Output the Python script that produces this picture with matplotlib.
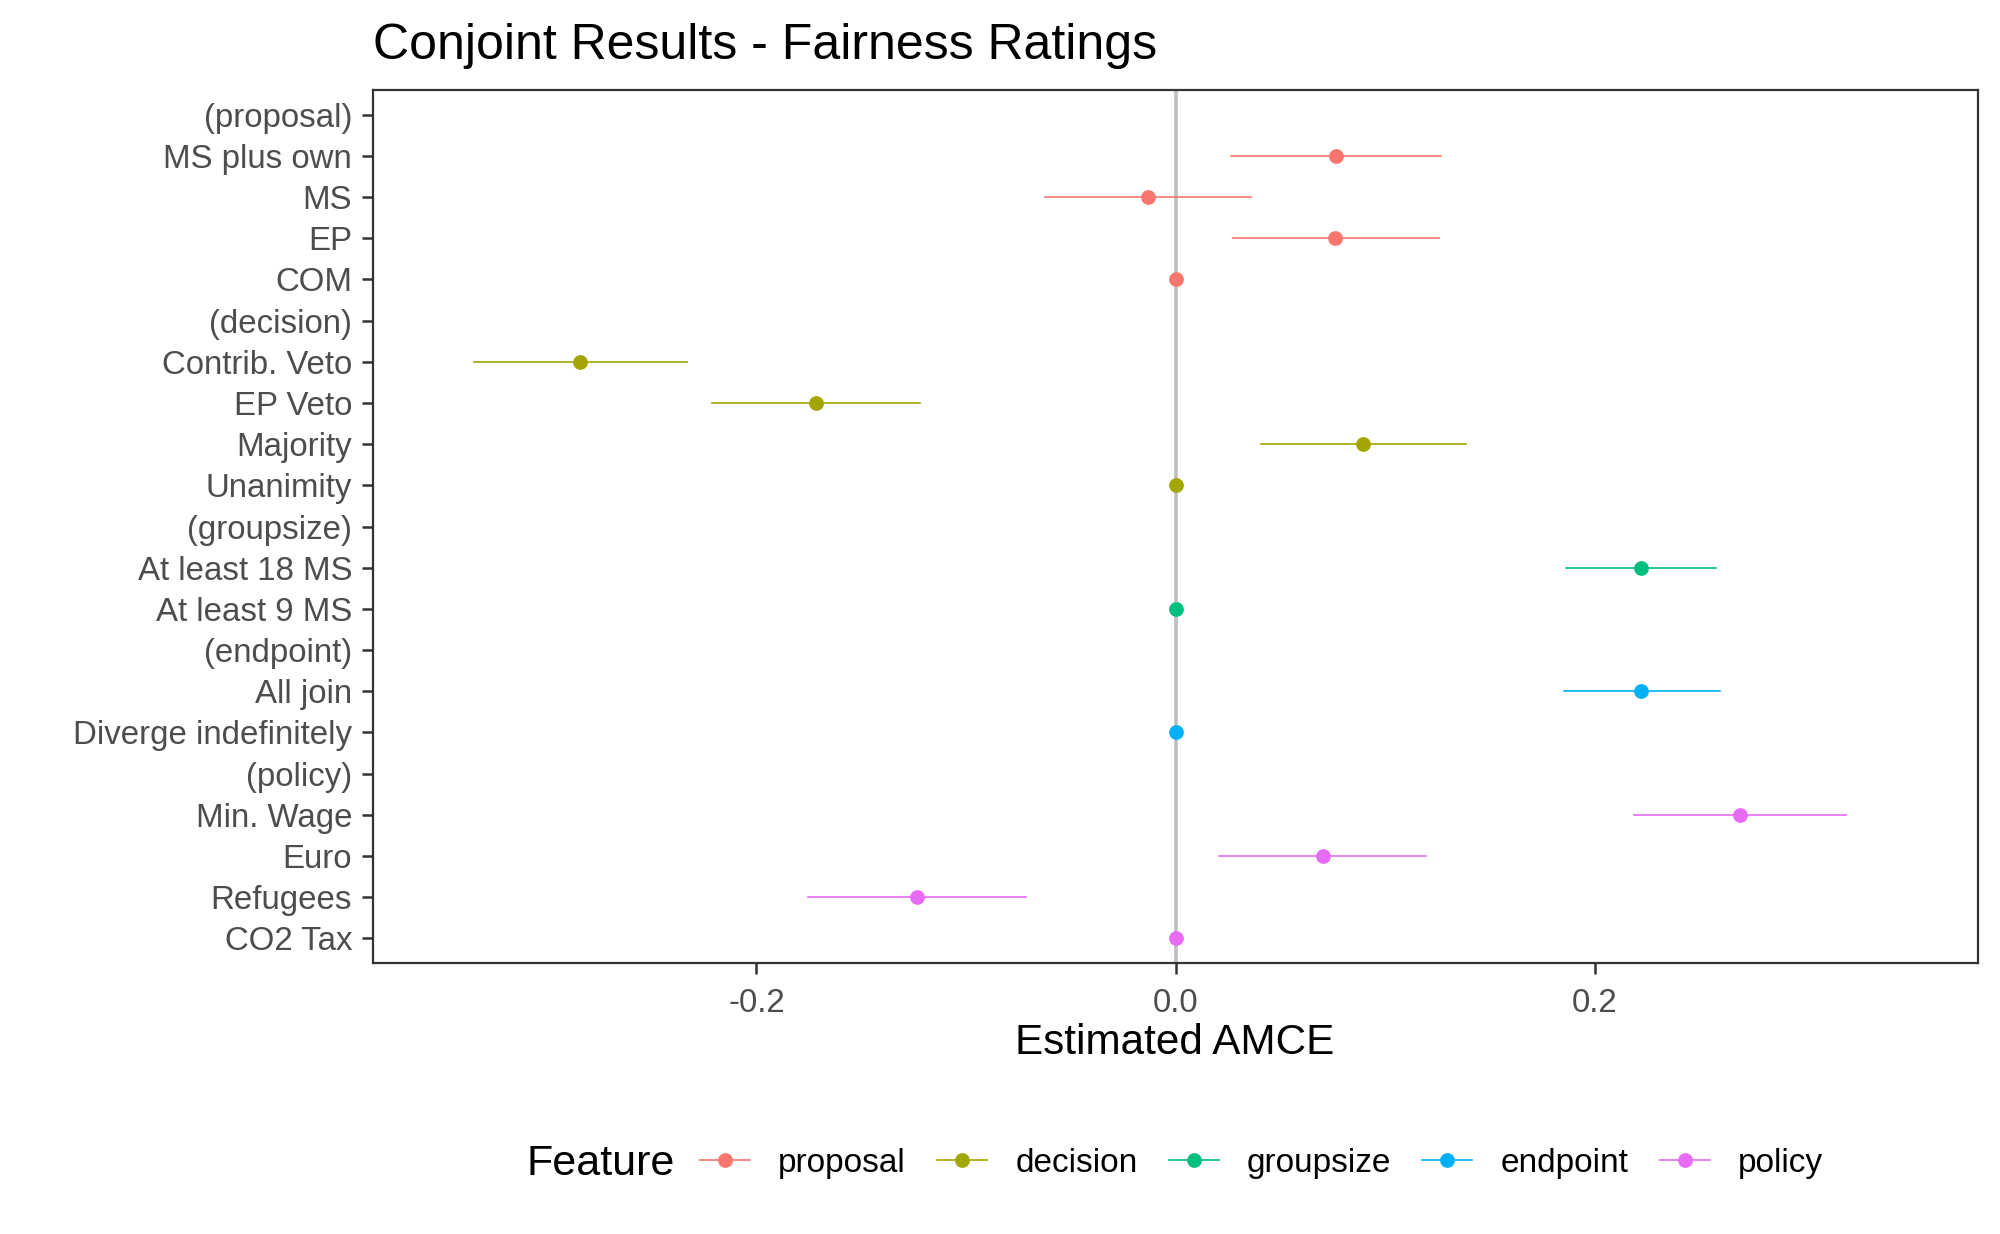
import matplotlib.pyplot as plt
from matplotlib.lines import Line2D

plt.rcParams['font.family'] = ['Liberation Sans', 'DejaVu Sans']

# row labels, top to bottom
labels = ["(proposal)", "MS plus own", "MS", "EP", "COM",
          "(decision)", "Contrib. Veto", "EP Veto", "Majority", "Unanimity",
          "(groupsize)", "At least 18 MS", "At least 9 MS",
          "(endpoint)", "All join", "Diverge indefinitely",
          "(policy)", "Min. Wage", "Euro", "Refugees", "CO2 Tax"]
# feature of each row (None for header rows)
feature = [None, "proposal", "proposal", "proposal", "proposal",
           None, "decision", "decision", "decision", "decision",
           None, "groupsize", "groupsize",
           None, "endpoint", "endpoint",
           None, "policy", "policy", "policy", "policy"]
estimate = [None, 0.0766, -0.0132, 0.0763, 0.0,
            None, -0.2841, -0.1718, 0.0897, 0.0,
            None, 0.2221, 0.0,
            None, 0.2224, 0.0,
            None, 0.2696, 0.0702, -0.1234, 0.0]
lower = [None, 0.0267, -0.0622, 0.0276, 0.0,
         None, -0.3350, -0.2214, 0.0410, 0.0,
         None, 0.1865, 0.0,
         None, 0.1853, 0.0,
         None, 0.2188, 0.0206, -0.1755, 0.0]
upper = [None, 0.1265, 0.0358, 0.1256, 0.0,
         None, -0.2333, -0.1219, 0.1387, 0.0,
         None, 0.2580, 0.0,
         None, 0.2599, 0.0,
         None, 0.3201, 0.1195, -0.0714, 0.0]

features = ["proposal", "decision", "groupsize", "endpoint", "policy"]
colors = {"proposal": "#F8766D", "decision": "#A3A500", "groupsize": "#00BF7D",
          "endpoint": "#00B0F6", "policy": "#E76BF3"}

fig = plt.figure(figsize=(10, 6.17), dpi=200)
ax = fig.add_axes([0.1865, 0.2196, 0.8025, 0.7074])

ax.axvline(0, color="#BEBEBE", lw=1.3, zorder=1)

for i in range(len(labels)):
    if feature[i] is None:
        continue
    c = colors[feature[i]]
    ax.plot([lower[i], upper[i]], [i, i], color=c, lw=0.6, zorder=2)
    ax.plot(estimate[i], i, "o", color=c, ms=4.3, zorder=3)

ax.set_yticks(range(len(labels)))
ax.set_yticklabels(labels)
ax.set_ylim(len(labels) - 0.4, -0.6)
ax.set_xlim(-0.383, 0.383)
ax.set_xticks([-0.2, 0.0, 0.2])
ax.set_xticklabels(["-0.2", "0.0", "0.2"])

ax.tick_params(axis="both", labelsize=11.9, labelcolor="#4D4D4D", color="#333333",
               length=4, width=0.9)
ax.tick_params(axis="x", pad=5)
for s in ax.spines.values():
    s.set_color("#333333")
    s.set_linewidth(0.8)

fig.text(0.1865, 0.963, "Conjoint Results - Fairness Ratings", fontsize=18,
         ha="left", va="center")
fig.text(0.5875, 0.1545, "Estimated AMCE", fontsize=15.2, ha="center", va="center")

# legend
fig.text(0.2635, 0.057, "Feature", fontsize=15.5, ha="left", va="center")
handles = [Line2D([], [], color=colors[f], lw=0.6, marker="o", ms=4.3) for f in features]
fig.legend(handles, features, ncol=5, loc="center left", bbox_to_anchor=(0.35, 0.057),
           frameon=False, fontsize=12, handlelength=1.5, handletextpad=0.85,
           columnspacing=0.93, borderpad=0, borderaxespad=0)

fig.savefig("out.png", dpi=200)
